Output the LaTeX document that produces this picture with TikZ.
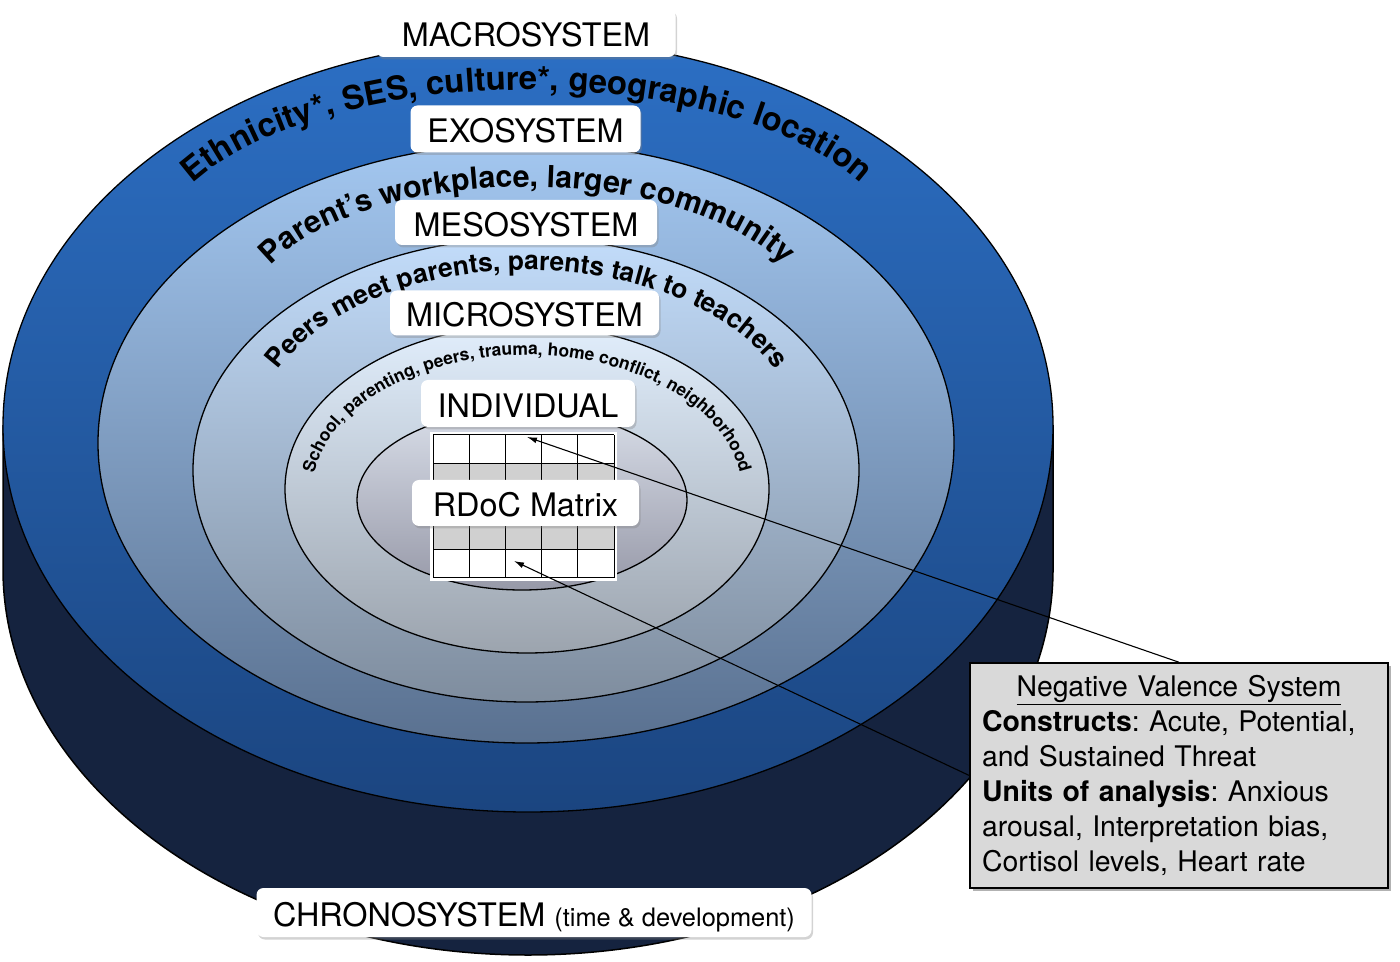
\documentclass[tikz,border=0pt]{standalone}
\usepackage{fontspec}
\setmainfont{TeX Gyre Heros}
\usetikzlibrary{shadows,decorations.text,arrows.meta}
\definecolor{macroT}{HTML}{2C6FC4}
\definecolor{macroB}{HTML}{1B4580}
\definecolor{sidecol}{HTML}{15233F}
\definecolor{exoT}{HTML}{A3C7F0}
\definecolor{exoB}{HTML}{5A7190}
\definecolor{mesoT}{HTML}{C2DCFA}
\definecolor{mesoB}{HTML}{7F8D9E}
\definecolor{microT}{HTML}{E1EEFC}
\definecolor{microB}{HTML}{9CA4AE}
\definecolor{indT}{HTML}{D8DDE8}
\definecolor{indB}{HTML}{9799A8}
\definecolor{gridgrey}{HTML}{D0D0D0}
\definecolor{boxgrey}{HTML}{D9D9D9}
\frenchspacing
\begin{document}
\begin{tikzpicture}[x=1bp,y=1bp,
  ring/.style={draw=black,line width=1.3bp},
  lab/.style={fill=white,rounded corners=7bp,inner sep=0pt,text height=28bp,text depth=0bp,
    font=\fontsize{32.5}{32.5}\selectfont,
    drop shadow={opacity=0.35,shadow xshift=1.5bp,shadow yshift=-2.5bp}},
  nvsbox/.style={fill=boxgrey,draw=black,line width=1.5bp,minimum width=418bp,minimum height=225bp,
    text width=394bp,inner xsep=12bp,align=left,font=\fontsize{28.5}{35}\selectfont},
  arr/.style={-{Latex[length=10bp,width=6bp]},line width=1.1bp},
  gridline/.style={draw=black,line width=1bp}
]
\useasboundingbox (0,0) rectangle (1400,961);

% cylinder side (chronosystem)
\path[fill=sidecol,draw=black,line width=1.5bp] (3,535) -- (3,392)
  arc[start angle=180,end angle=360,x radius=525bp,y radius=386bp] -- (1053,535) -- cycle;

% top rings
\path[ring,top color=macroT,bottom color=macroB] (528,535) ellipse[x radius=525bp,y radius=386bp];
\path[ring,top color=exoT,bottom color=exoB] (526,518) ellipse[x radius=428bp,y radius=300bp];
\path[ring,top color=mesoT,bottom color=mesoB] (526,491) ellipse[x radius=333bp,y radius=232bp];
\path[ring,top color=microT,bottom color=microB] (527,472) ellipse[x radius=242bp,y radius=164bp];
\path[ring,top color=indT,bottom color=indB] (522,461) ellipse[x radius=165bp,y radius=90bp];

% curved texts
\path[decorate,decoration={text along path,text align=center,
  text={|\fontsize{33}{33}\selectfont\bfseries|Ethnicity*, SES, culture*, geographic location}}]
  (155,704) arc[start angle=180,end angle=0,x radius=372bp,y radius=167bp];
\path[decorate,decoration={text along path,text align=center,
  text={|\fontsize{30.5}{30.5}\selectfont\bfseries|Parent’s workplace, larger community}}]
  (247,642.5) arc[start angle=180,end angle=0,x radius=280bp,y radius=131.5bp];
\path[decorate,decoration={text along path,text align=center,
  text={|\fontsize{26.5}{26.5}\selectfont\bfseries|Peers meet parents, parents talk to teachers}}]
  (253,519) arc[start angle=180,end angle=0,x radius=274bp,y radius=172bp];
\path[decorate,decoration={text along path,text align=center,
  text={|\fontsize{17.5}{17.5}\selectfont\bfseries|School, parenting, peers, trauma, home conflict, neighborhood}}]
  (315.3,444) arc[start angle=190,end angle=-10,x radius=215bp,y radius=138bp];

% RDoC grid
\fill[white] (430,380) rectangle (617,529);
\fill[gridgrey] (433,411.6) rectangle (614,497.4);
\foreach \x in {433,469.2,505.4,541.6,577.8,614} \draw[gridline] (\x,383) -- (\x,526);
\foreach \y in {383,411.6,440.2,468.8,497.4,526} \draw[gridline] (433,\y) -- (614,\y);

\coordinate (tipInd) at (527,524);
\coordinate (tipMat) at (514,400);

% info box: shadow first, then connectors, then the box itself on top
\path[fill=black,opacity=0.3] (973,70) rectangle (1391,295);
\node[nvsbox,draw=none,fill=none] (nvs) at (1179,185.5) {\phantom{x}};
\draw[arr] (nvs.north) -- (tipInd);
\draw[arr] (nvs.west) -- (tipMat);
\node[nvsbox] (nvstext) at (nvs.center) {{\centering\underline{Negative Valence System}\par}
\textbf{Constructs}: Acute, Potential,\\ and Sustained Threat\\ \textbf{Units of analysis}: Anxious\\ arousal, Interpretation bias,\\ Cortisol levels, Heart rate};

% labels
\node[lab,minimum width=299bp,minimum height=48bp] (macro) at (526,928) {MACROSYSTEM};
\node[lab,minimum width=230bp,minimum height=47bp] (exo) at (525.5,832) {EXOSYSTEM};
\node[lab,minimum width=262bp,minimum height=45bp] (meso) at (526,738.5) {MESOSYSTEM};
\node[lab,minimum width=269bp,minimum height=45bp] (micro) at (524.5,648) {MICROSYSTEM};
\node[lab,minimum width=214bp,minimum height=47bp] (indiv) at (528,557.5) {INDIVIDUAL};
\node[lab,minimum width=227bp,minimum height=46bp] (rdoc) at (525.5,458) {RDoC Matrix};
\node[lab,minimum width=555bp,minimum height=49bp] (chrono) at (534,48.5) {CHRONOSYSTEM {\fontsize{25.5}{25.5}\selectfont(time \& development)}};
\end{tikzpicture}
\end{document}
